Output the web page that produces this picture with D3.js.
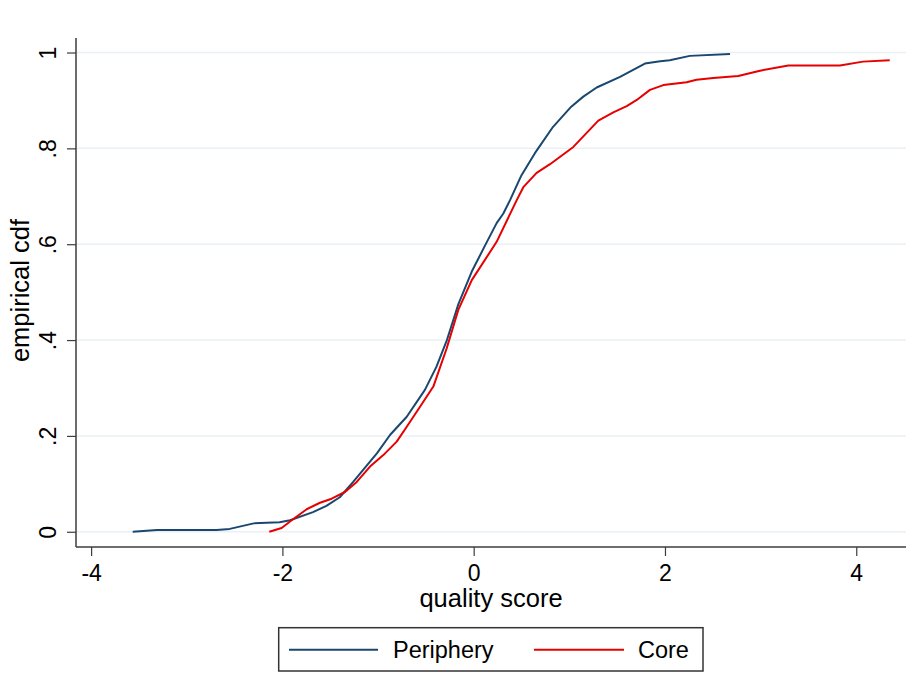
<!DOCTYPE html>
<html>
<head>
<meta charset="utf-8">
<script src="https://cdn.jsdelivr.net/npm/d3@7"></script>
<style>
  html, body { margin: 0; padding: 0; background: #fff; }
  svg { display: block; font-family: "Liberation Sans", Arial, Helvetica, sans-serif; }
</style>
</head>
<body>
<svg id="chart" width="919" height="696"></svg>
<script>
// ---- data ----
const seriesNames = ["Periphery", "Core"];
const seriesColors = ["#1a476f", "#e60000"];

const peripheryX = [-3.565, -3.31, -2.69, -2.55, -2.30, -2.03, -1.92, -1.68, -1.54, -1.40, -1.26, -1.01, -0.875, -0.70, -0.51, -0.39, -0.28, -0.16, -0.02, 0.118, 0.24, 0.31, 0.38, 0.50, 0.64, 0.83, 1.02, 1.146, 1.286, 1.53, 1.79, 1.95, 2.05, 2.26, 2.68];
const peripheryY = [0, 0.0035, 0.0035, 0.006, 0.0175, 0.020, 0.024, 0.041, 0.054, 0.072, 0.104, 0.164, 0.202, 0.24, 0.296, 0.344, 0.40, 0.475, 0.543, 0.597, 0.644, 0.664, 0.692, 0.744, 0.79, 0.845, 0.887, 0.908, 0.927, 0.949, 0.977, 0.982, 0.984, 0.993, 0.997];

const coreX = [-2.137, -2.008, -1.903, -1.746, -1.607, -1.485, -1.346, -1.223, -1.084, -0.945, -0.805, -0.70, -0.561, -0.422, -0.282, -0.161, -0.02, 0.24, 0.45, 0.519, 0.658, 0.798, 1.042, 1.303, 1.46, 1.60, 1.705, 1.843, 1.983, 2.227, 2.33, 2.505, 2.766, 2.993, 3.29, 3.83, 4.07, 4.35];
const coreY = [0, 0.008, 0.024, 0.047, 0.0605, 0.069, 0.083, 0.104, 0.136, 0.160, 0.188, 0.219, 0.261, 0.303, 0.383, 0.463, 0.525, 0.605, 0.692, 0.719, 0.749, 0.767, 0.803, 0.858, 0.875, 0.888, 0.901, 0.922, 0.932, 0.938, 0.943, 0.947, 0.951, 0.962, 0.973, 0.973, 0.981, 0.984];

const xTicks = [-4, -2, 0, 2, 4];
const yTicks = [0, 0.2, 0.4, 0.6, 0.8, 1];
const yTickLabels = ["0", ".2", ".4", ".6", ".8", "1"];
const xTitle = "quality score";
const yTitle = "empirical cdf";

// ---- layout ----
const svg = d3.select("#chart");
const pLeft = 76, pRight = 906, pTop = 38, pBottom = 547;

const x = d3.scaleLinear().domain([-4.158, 4.52]).range([pLeft, pRight]);
const y = d3.scaleLinear().domain([-0.0318, 1.0303]).range([pBottom, pTop]);

const axisColor = "#3c3c3c";
const gridColor = "#eaf0f3";

// gridlines
svg.append("g").selectAll("line").data(yTicks).join("line")
  .attr("x1", pLeft).attr("x2", pRight)
  .attr("y1", d => y(d)).attr("y2", d => y(d))
  .attr("stroke", gridColor).attr("stroke-width", 1.5);

// series
const series = [
  { name: seriesNames[0], color: seriesColors[0], pts: peripheryX.map((v, i) => [v, peripheryY[i]]) },
  { name: seriesNames[1], color: seriesColors[1], pts: coreX.map((v, i) => [v, coreY[i]]) }
];
const line = d3.line().x(d => x(d[0])).y(d => y(d[1]));
svg.append("g").selectAll("path").data(series).join("path")
  .attr("d", d => line(d.pts))
  .attr("fill", "none")
  .attr("stroke", d => d.color)
  .attr("stroke-width", 2)
  .attr("stroke-linejoin", "round");

// y axis
const yAxis = svg.append("g").attr("transform", `translate(${pLeft},0)`)
  .call(d3.axisLeft(y).tickValues(yTicks).tickSize(9).tickSizeOuter(0)
    .tickFormat((d, i) => yTickLabels[i]));
yAxis.select(".domain").attr("d", `M0,${pTop}V${pBottom}`).attr("stroke", axisColor).attr("stroke-width", 1.5);
yAxis.selectAll(".tick line").attr("stroke", axisColor).attr("stroke-width", 1.2);
yAxis.selectAll(".tick text")
  .attr("x", null).attr("y", null).attr("dy", null)
  .attr("transform", "translate(-20,0) rotate(-90)")
  .attr("text-anchor", "middle")
  .attr("fill", "#000")
  .style("font-size", "23px");

// x axis
const xAxis = svg.append("g").attr("transform", `translate(0,${pBottom})`)
  .call(d3.axisBottom(x).tickValues(xTicks).tickSize(9).tickSizeOuter(0)
    .tickFormat(d => String(d).replace("−", "-")));
xAxis.select(".domain").attr("d", `M${pLeft},0H${pRight}`).attr("stroke", axisColor).attr("stroke-width", 1.5);
xAxis.selectAll(".tick line").attr("stroke", axisColor).attr("stroke-width", 1.2);
xAxis.selectAll(".tick text")
  .attr("y", 33.7).attr("dy", null)
  .attr("fill", "#000")
  .style("font-size", "23px");

// axis titles
svg.append("text")
  .attr("x", (pLeft + pRight) / 2).attr("y", 606.5)
  .attr("text-anchor", "middle")
  .style("font-size", "25.5px")
  .text(xTitle);
svg.append("text")
  .attr("transform", `translate(29,${(pTop + pBottom) / 2 - 2}) rotate(-90)`)
  .attr("text-anchor", "middle")
  .style("font-size", "25.5px")
  .text(yTitle);

// legend
const lg = svg.append("g");
lg.append("rect")
  .attr("x", 278.7).attr("y", 627.7).attr("width", 424.3).attr("height", 43.3)
  .attr("fill", "#fff").attr("stroke", "#333").attr("stroke-width", 1.5);
const legendItems = [
  { x1: 289, x2: 378, tx: 393 },
  { x1: 534, x2: 624, tx: 638 }
];
lg.selectAll("line.key").data(series).join("line")
  .attr("class", "key")
  .attr("x1", (d, i) => legendItems[i].x1).attr("x2", (d, i) => legendItems[i].x2)
  .attr("y1", 649.7).attr("y2", 649.7)
  .attr("stroke", d => d.color).attr("stroke-width", 2);
lg.selectAll("text").data(series).join("text")
  .attr("x", (d, i) => legendItems[i].tx).attr("y", 658)
  .style("font-size", "23.5px")
  .text(d => d.name);
</script>
</body>
</html>
